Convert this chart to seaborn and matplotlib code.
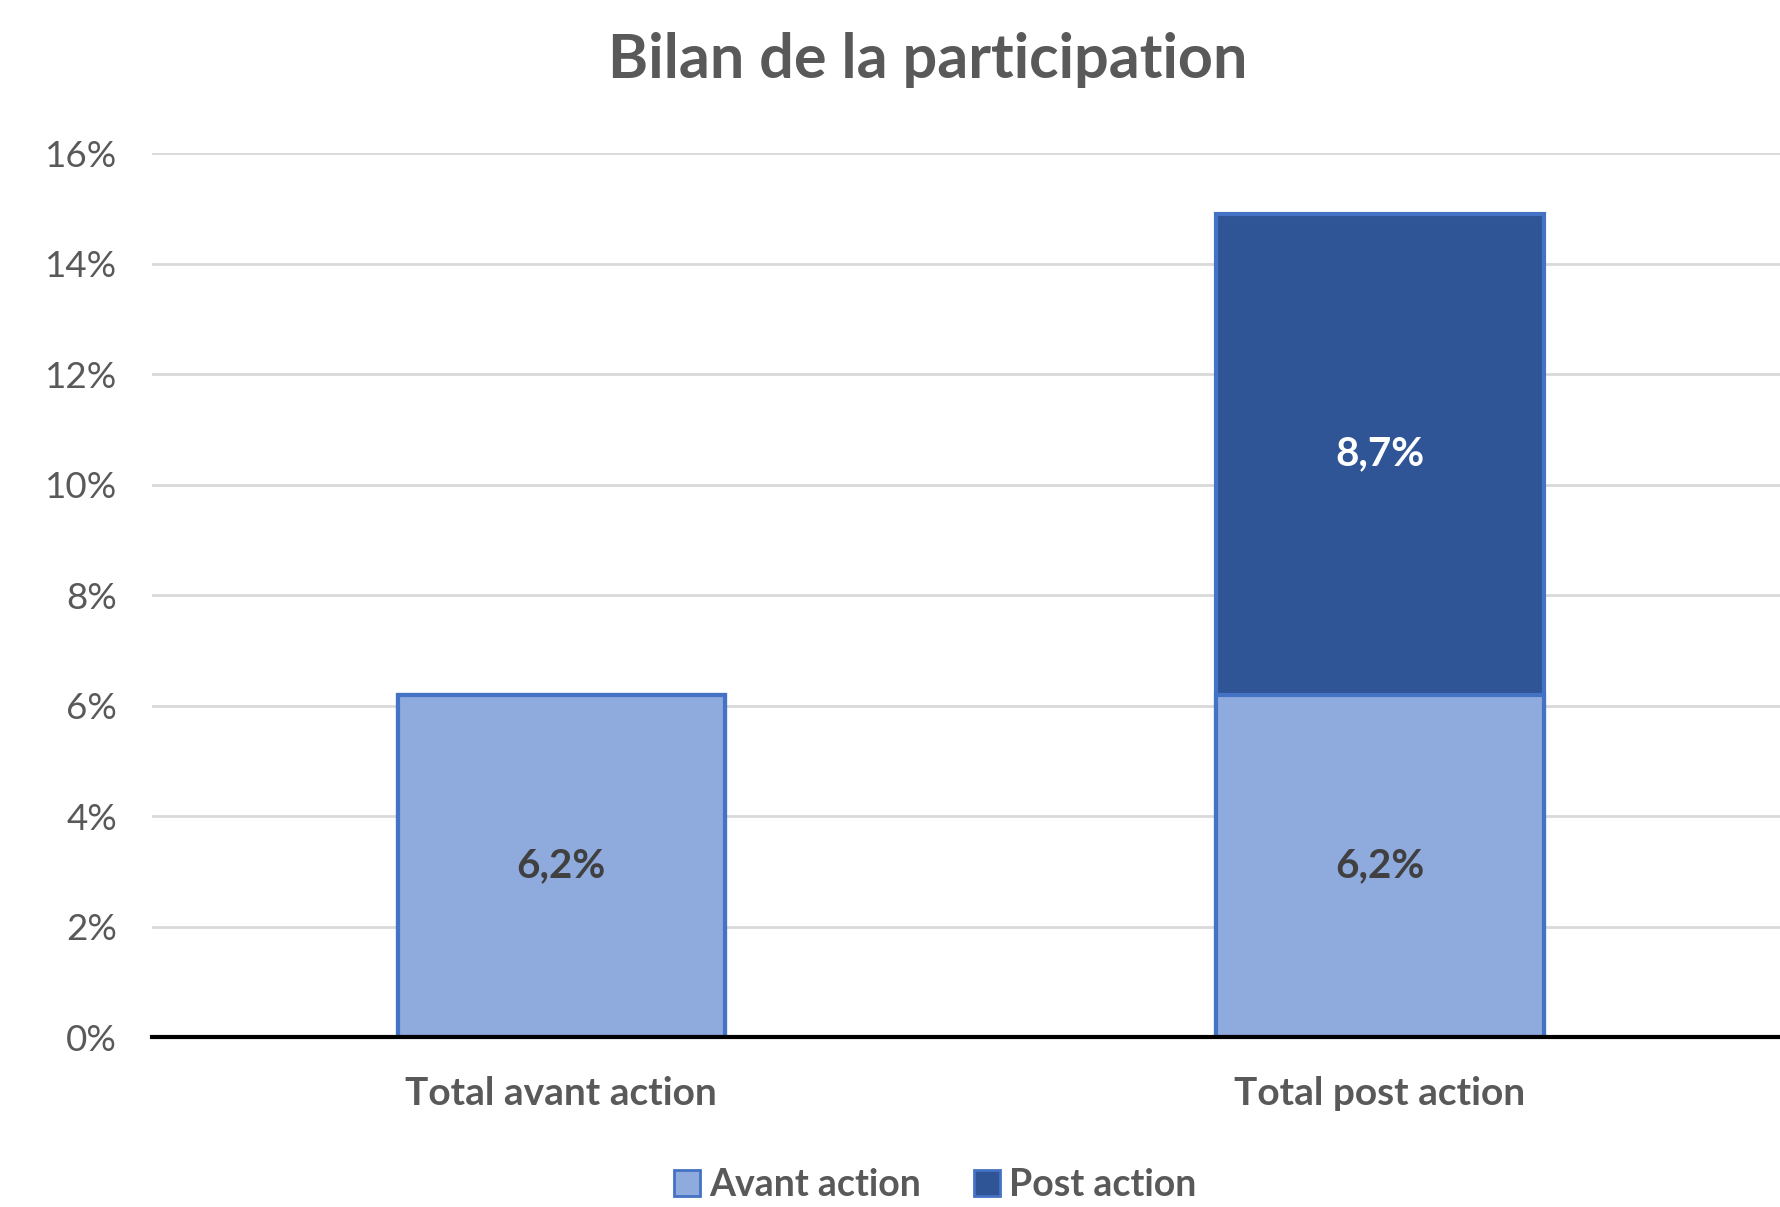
import matplotlib
matplotlib.use("Agg")
import matplotlib.pyplot as plt
import seaborn as sns
import pandas as pd
from matplotlib.patches import Patch

# Data (percent)
categories = ["Total avant action", "Total post action"]
avant = [6.2, 6.2]
post = [0.0, 8.7]
y_ticks = [0, 2, 4, 6, 8, 10, 12, 14, 16]

light = "#8FAADC"
dark = "#2F5597"
edge = "#4472C4"
grey = "#595959"

sns.set_theme(style="white")
plt.rcParams["font.family"] = ["Lato", "DejaVu Sans"]

df = pd.DataFrame({"cat": categories, "avant": avant, "post": post})
df["total"] = df["avant"] + df["post"]

fig = plt.figure(figsize=(17.81, 12.07), dpi=100)
ax = fig.add_axes([0.0853, 0.1408, 0.9147, 0.7324])

# stacked: draw total (dark) first, then the lower segment (light) on top
sns.barplot(data=df, x="cat", y="total", color=dark, width=0.4,
            edgecolor=edge, linewidth=3, saturation=1, ax=ax, zorder=3)
sns.barplot(data=df, x="cat", y="avant", color=light, width=0.4,
            edgecolor=edge, linewidth=3, saturation=1, ax=ax, zorder=4)

# value labels
for i, (a, p) in enumerate(zip(avant, post)):
    ax.text(i, a / 2, f"{a:.1f}%".replace(".", ","), ha="center", va="center",
            fontsize=29, fontweight="bold", color="#404040", zorder=5)
    if p > 0:
        ax.text(i, a + p / 2, f"{p:.1f}%".replace(".", ","), ha="center", va="center",
                fontsize=29, fontweight="bold", color="white", zorder=5)

ax.set_xlim(-0.5, 1.49)
ax.set_ylim(0, 16)
ax.set_yticks(y_ticks)
ax.set_yticklabels([f"{v}%" for v in y_ticks], fontsize=26.5, color=grey)
ax.tick_params(axis="y", length=0, pad=25)
ax.tick_params(axis="x", length=0, pad=28)
for lbl in ax.get_xticklabels():
    lbl.set_fontsize(28)
    lbl.set_fontweight("bold")
    lbl.set_color(grey)
ax.set_xlabel("")
ax.set_ylabel("")
ax.grid(axis="y", color="#D9D9D9", linewidth=2, zorder=0)
for s in ["top", "right", "left"]:
    ax.spines[s].set_visible(False)
ax.spines["bottom"].set_color("black")
ax.spines["bottom"].set_linewidth(3)
ax.spines["bottom"].set_zorder(6)

fig.suptitle("Bilan de la participation", x=0.521, y=0.950, fontsize=44,
             fontweight="bold", color=grey, va="center")

handles = [Patch(facecolor=light, edgecolor=edge, linewidth=2, label="Avant action"),
           Patch(facecolor=dark, edgecolor=edge, linewidth=2, label="Post action")]
leg = fig.legend(handles=handles, loc="center", bbox_to_anchor=(0.525, 0.018), ncol=2,
                 frameon=False, fontsize=27, labelcolor=grey, handlelength=0.7,
                 handleheight=0.7, handletextpad=0.25, columnspacing=1.4)
for t in leg.get_texts():
    t.set_fontweight("bold")

fig.savefig("out.png", dpi=100)
